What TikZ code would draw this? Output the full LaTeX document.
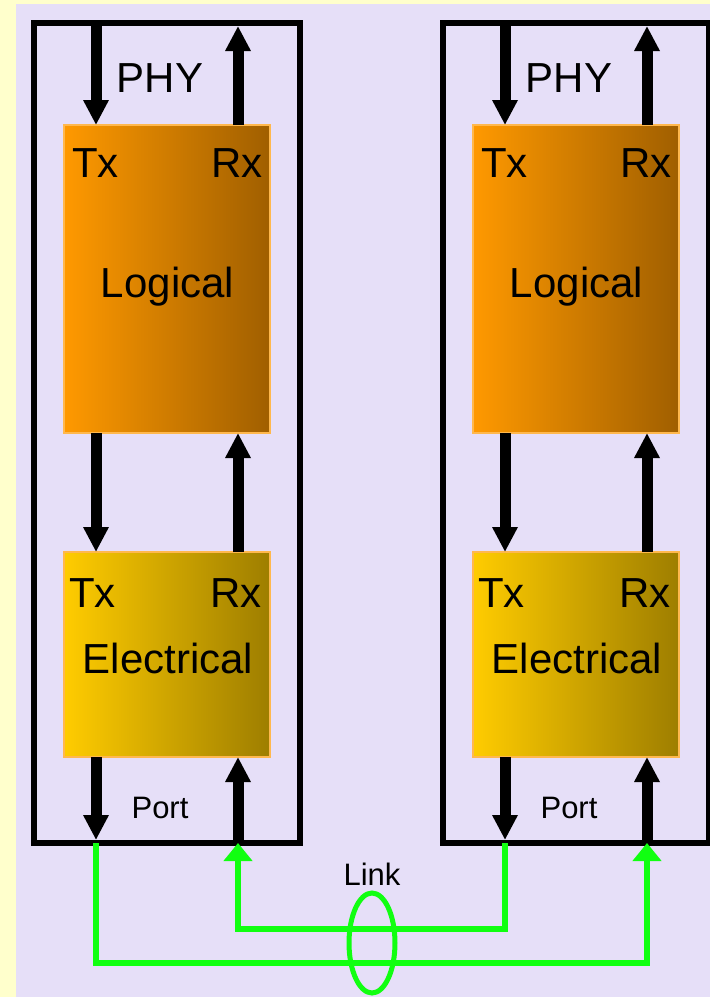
\documentclass[tikz,border=0pt]{standalone}
\usepackage{fontspec}
\setmainfont{Liberation Sans}
\usetikzlibrary{arrows.meta,positioning,shapes.geometric}

\definecolor{pagebg}{HTML}{FFFFCC}
\definecolor{panelbg}{HTML}{E6DFF8}
\definecolor{logl}{HTML}{FF9900}
\definecolor{logr}{HTML}{A05F00}
\definecolor{elel}{HTML}{FFCC00}
\definecolor{eler}{HTML}{9E7E00}
\definecolor{blkedge}{HTML}{FFB84D}
\definecolor{linkgreen}{HTML}{11FF11}

\begin{document}
\begin{tikzpicture}[
  x=1pt, y=-1pt,
  big/.style={font=\fontsize{42}{50}\selectfont, inner sep=0pt},
  small/.style={font=\fontsize{31}{37}\selectfont, inner sep=0pt},
  phybox/.style={draw, line width=6pt, minimum width=266pt, minimum height=820pt, inner sep=0pt, outer sep=0pt},
  block/.style={draw=blkedge, line width=2pt, minimum width=206pt, minimum height=#1, inner sep=0pt, outer sep=0pt},
  sig/.style={line width=11pt, -{Triangle[width=24pt,length=25pt]}},
  wire/.style={draw=linkgreen, line width=6pt, -{Triangle[width=28pt,length=18pt]}},
]
\useasboundingbox (0,0) rectangle (710,997);
\fill[pagebg] (0,0) rectangle (710,997);
\fill[panelbg] (16,4) rectangle (710,997);

% two PHY panels, the second one shifted to the right
\foreach \n/\dx in {1/0, 2/409} {
  \node[phybox] (phy\n) at (167+\dx,433) {};
  \node[block=308pt, left color=logl, right color=logr] (log\n) at (167+\dx,279) {};
  \node[block=205pt, left color=elel, right color=eler] (ele\n) at (167+\dx,654.5) {};
  \coordinate (tx\n) at (96+\dx,0);
  \coordinate (rx\n) at (238+\dx,0);

  \node[big, anchor=base] (phyl\n) at (160+\dx,92) {PHY};
  \node[big, anchor=base west] (ltx\n) at (72+\dx,177) {Tx};
  \node[big, anchor=base east] (lrx\n) at (263+\dx,177) {Rx};
  \node[big, anchor=base] (logl\n) at (167.5+\dx,297) {Logical};
  \node[big, anchor=base west] (etx\n) at (69+\dx,607) {Tx};
  \node[big, anchor=base east] (erx\n) at (262+\dx,607) {Rx};
  \node[big, anchor=base] (elel\n) at (168+\dx,673) {Electrical};
  \node[small, anchor=base] (port\n) at (160+\dx,818) {Port};

  \draw[sig] (phy\n.north -| tx\n) -- (log\n.north -| tx\n);
  \draw[sig, shorten >=3pt] (log\n.north -| rx\n) -- (phy\n.north -| rx\n);
  \draw[sig] (log\n.south -| tx\n) -- (ele\n.north -| tx\n);
  \draw[sig] (ele\n.north -| rx\n) -- (log\n.south -| rx\n);
  \draw[sig, shorten >=3pt] (ele\n.south -| tx\n) -- (phy\n.south -| tx\n);
  \draw[sig] (phy\n.south -| rx\n) -- (ele\n.south -| rx\n);
}

% the link between the two ports
\coordinate (lo) at (0,963);
\coordinate (hi) at (0,929);
\draw[wire] (phy1.south -| tx1) -- (tx1 |- lo) -| (phy2.south -| rx2);
\draw[wire] (phy2.south -| tx2) -- (tx2 |- hi) -| (phy1.south -| rx1);
\node[draw=linkgreen, line width=5pt, ellipse, minimum width=46pt, minimum height=100pt, inner sep=0pt, outer sep=0pt] (lnk) at (372,943) {};
\node[small, above=7pt of lnk] (lnkl) {Link};
\end{tikzpicture}
\end{document}
